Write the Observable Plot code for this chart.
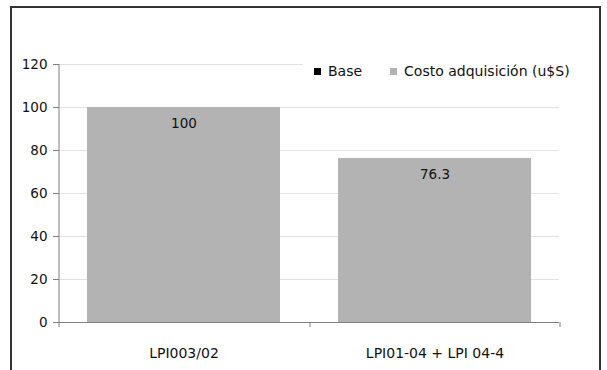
<!DOCTYPE html>
<html>
<head>
<meta charset="utf-8">
<script src="https://cdn.jsdelivr.net/npm/d3@7"></script>
<script src="https://cdn.jsdelivr.net/npm/@observablehq/plot@0.6"></script>
<style>
  html, body { margin: 0; padding: 0; background: #fff; }
  body { width: 607px; height: 370px; position: relative; overflow: hidden; font-family: "DejaVu Sans", Verdana, sans-serif; }
  #frame { position: absolute; left: 10px; top: 6px; width: 591px; height: 400px; border: 2px solid #333; box-sizing: border-box; pointer-events: none; }
  #chart { position: absolute; left: 0; top: 0; }
  #legend { position: absolute; left: 303px; top: 61px; width: 274px; height: 20px; background: #fff; font-size: 14px; color: #111; display: flex; align-items: center; }
  .key { display: inline-flex; align-items: center; }
  .swatch { width: 7px; height: 7px; display: inline-block; margin-right: 7px; }
</style>
</head>
<body>
<div id="chart"></div>
<div id="legend"></div>
<div id="frame"></div>
<script>
// Categories and series values
const categories = ["LPI003/02", "LPI01-04 + LPI 04-4"];
const baseValues = [0, 0];
const costValues = [100, 76.3];
const seriesNames = ["Base", "Costo adquisición (u$S)"];
const seriesColors = ["#000000", "#b3b3b3"];
const yTicks = [0, 20, 40, 60, 80, 100, 120];

const rows = [];
categories.forEach((c, i) => {
  rows.push({category: c, series: seriesNames[0], value: baseValues[i]});
  rows.push({category: c, series: seriesNames[1], value: costValues[i]});
});
const labels = categories.map((c, i) => ({category: c, value: baseValues[i] + costValues[i], text: String(costValues[i])}));

const W = 607, H = 370;
const mL = 59, mR = 48, mT = 64, mB = 48;
const step = (W - mL - mR) / categories.length;
const axisColor = "#7f7f7f";

const plot = Plot.plot({
  width: W,
  height: H,
  marginLeft: mL,
  marginRight: mR,
  marginTop: mT,
  marginBottom: mB,
  style: {fontFamily: "DejaVu Sans, Verdana, sans-serif", fontSize: "13.5px", color: "#111", background: "transparent"},
  x: {domain: categories, paddingInner: 0.23, paddingOuter: 0.11, label: null},
  y: {domain: [0, 120], label: null},
  color: {domain: seriesNames, range: seriesColors},
  marks: [
    Plot.gridY(yTicks.filter(d => d > 0), {stroke: "#e2e2e2", strokeOpacity: 1}),
    Plot.barY(rows, Plot.stackY({x: "category", y: "value", fill: "series"})),
    Plot.text(labels, {x: "category", y: "value", text: "text", dy: 16, fontSize: 13.5, fill: "#111"}),
    // value axis line along the left edge of the first category
    Plot.ruleX(categories.slice(0, 1), {x: d => d, y1: 0, y2: 120, dx: -step / 2, stroke: axisColor}),
    Plot.ruleY([0], {stroke: axisColor}),
    Plot.axisY({ticks: yTicks, tickSize: 6, tickPadding: 6, stroke: axisColor, fontSize: 13.5}),
    // category boundary ticks under the x axis
    Plot.ruleX(categories, {x: d => d, y1: 0, y2: 0, dx: -step / 2, stroke: axisColor, insetBottom: -5}),
    Plot.ruleX(categories.slice(-1), {x: d => d, y1: 0, y2: 0, dx: step / 2, stroke: axisColor, insetBottom: -5}),
    Plot.axisX({tickSize: 0, tickPadding: 26, fontSize: 14})
  ]
});
document.getElementById("chart").appendChild(plot);

// Legend
const legend = document.getElementById("legend");
seriesNames.forEach((name, i) => {
  const key = document.createElement("span");
  key.className = "key";
  key.style.marginLeft = i === 0 ? "11px" : "28px";
  const sw = document.createElement("span");
  sw.className = "swatch";
  sw.style.background = seriesColors[i];
  key.appendChild(sw);
  key.appendChild(document.createTextNode(name));
  legend.appendChild(key);
});
</script>
</body>
</html>
